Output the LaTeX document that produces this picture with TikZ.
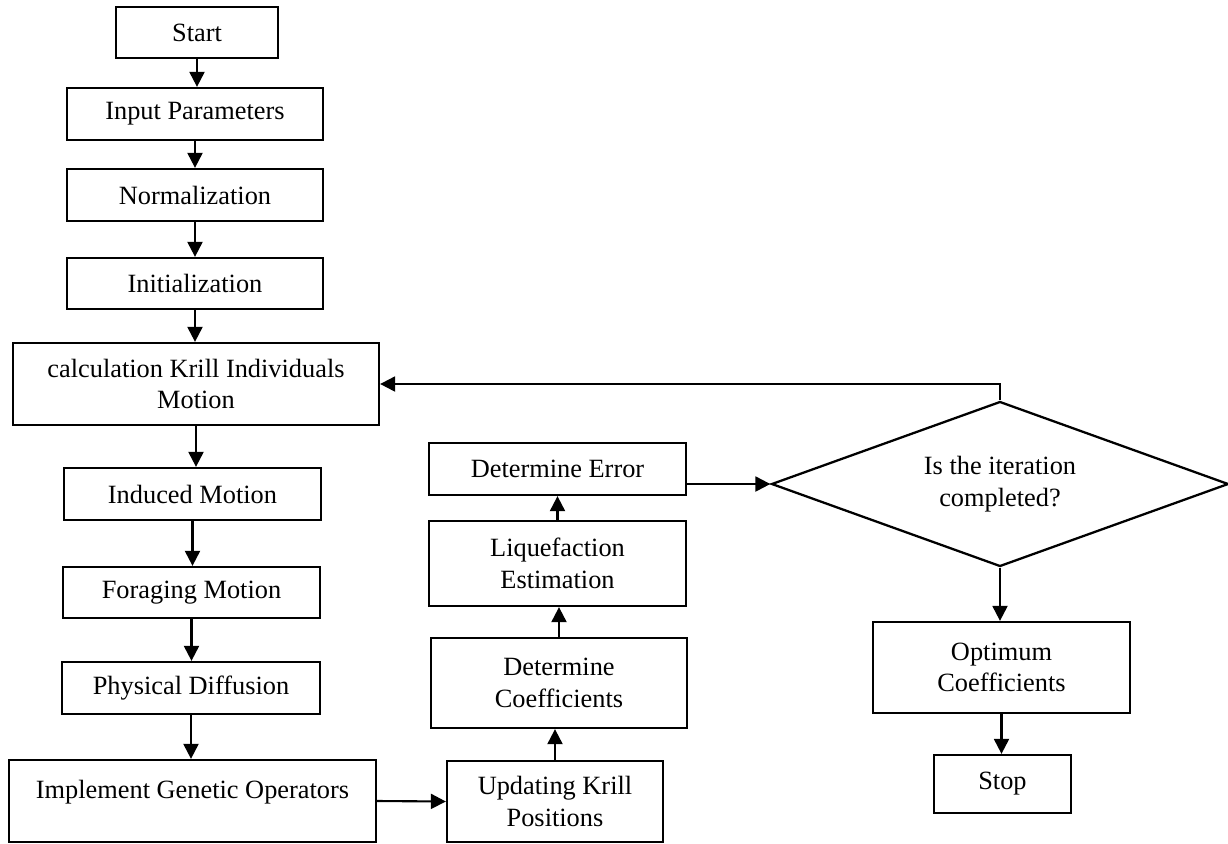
\documentclass[tikz,border=0pt]{standalone}
\usepackage{fontspec}
\setmainfont{Liberation Serif}
\usetikzlibrary{shapes.geometric,arrows.meta}

\begin{document}
\begin{tikzpicture}[x=0.02cm,y=-0.02cm,
    caja/.style={draw, line width=1.3pt, inner sep=0pt, align=center,
      font=\fontsize{15}{18}\selectfont},
    flecha/.style={-{Triangle[length=8.5pt,width=8.5pt]}, line width=1.2pt}]
    % Parámetros
    \def\px{0.02cm} % un pixel de la figura
    \useasboundingbox (0,0) rectangle (1228,843);

    % Columna izquierda
    \node[caja, minimum width=162*\px, minimum height=51*\px] (inicio) at (197,32.5) {Start};
    \node[caja, minimum width=256*\px, minimum height=52*\px] (entrada) at (195,114) {Input Parameters};
    \node[caja, minimum width=256*\px, minimum height=52*\px] (normal) at (195,195) {Normalization};
    \node[caja, minimum width=256*\px, minimum height=51*\px] (inicial) at (195,283.5) {Initialization};
    \node[caja, minimum width=366*\px, minimum height=82*\px] (calculo) at (196,384) {calculation Krill Individuals\\Motion};
    \node[caja, minimum width=257*\px, minimum height=52*\px] (inducido) at (192.5,494) {Induced Motion};
    \node[caja, minimum width=257*\px, minimum height=51*\px] (forrajeo) at (191.5,592.5) {Foraging Motion};
    \node[caja, minimum width=258*\px, minimum height=52*\px] (difusion) at (191,688) {Physical Diffusion};
    \node[caja, minimum width=367*\px, minimum height=82*\px] (genetico) at (192.5,801) {Implement Genetic Operators\\[-5pt]\mbox{}};

    % Columna central
    \node[caja, minimum width=216*\px, minimum height=81*\px] (actualizar) at (555,801.5) {Updating Krill\\Positions};
    \node[caja, minimum width=256*\px, minimum height=90*\px] (coef) at (559,683) {Determine\\Coefficients};
    \node[caja, minimum width=257*\px, minimum height=85*\px] (licuacion) at (557.5,563.5) {Liquefaction\\Estimation};
    \node[caja, minimum width=257*\px, minimum height=52*\px] (error) at (557.5,469) {Determine Error};

    % Decision y fin
    \node[caja, diamond, aspect=2.8, minimum width=457*\px, minimum height=165*\px] (decision) at (1000,484) {Is the iteration\\completed?};
    \node[caja, minimum width=257*\px, minimum height=91*\px] (optimo) at (1001.5,667.5) {Optimum\\Coefficients};
    \node[caja, minimum width=137*\px, minimum height=58*\px] (fin) at (1002.5,784) {Stop};

    % Flechas
    \draw[flecha] (inicio.south) -- (inicio.south |- entrada.north);
    \draw[flecha] (entrada.south) -- (entrada.south |- normal.north);
    \draw[flecha] (normal.south) -- (normal.south |- inicial.north);
    \draw[flecha] (inicial.south) -- (inicial.south |- calculo.north);
    \draw[flecha] (calculo.south) -- (calculo.south |- inducido.north);
    \draw[flecha] (inducido.south) -- (inducido.south |- forrajeo.north);
    \draw[flecha] (forrajeo.south) -- (forrajeo.south |- difusion.north);
    \draw[flecha] (difusion.south) -- (difusion.south |- genetico.north);
    \draw[flecha] (genetico.east) -- (actualizar.west);
    \draw[flecha] (actualizar.north) -- (actualizar.north |- coef.south);
    \draw[flecha] (coef.north) -- (coef.north |- licuacion.south);
    \draw[flecha] (licuacion.north) -- (licuacion.north |- error.south);
    \draw[flecha] (error.east |- decision.west) -- (decision.west);
    \draw[flecha] (decision.north) |- (calculo.east);
    \draw[flecha] (decision.south) -- (decision.south |- optimo.north);
    \draw[flecha] (optimo.south) -- (optimo.south |- fin.north);
  \end{tikzpicture}
\end{document}
